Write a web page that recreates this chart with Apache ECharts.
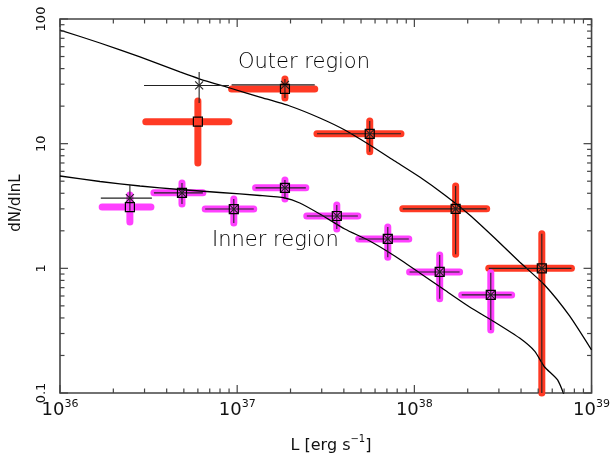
<!DOCTYPE html>
<html>
<head>
<meta charset="utf-8">
<script src="https://cdn.jsdelivr.net/npm/echarts@6/dist/echarts.min.js"></script>
<style>
  html, body { margin: 0; padding: 0; background: #fff; }
  #chart { width: 613px; height: 456px; }
</style>
</head>
<body>
<div id="chart"></div>
<script>
// Luminosity bins: [L, L_low, L_high, dN/dlnL, low, high]
const outerBins = [
  [6.0e36, 3.05e36, 8.98e36, 15.0, 7.0, 22.0],
  [1.86e37, 9.3e36, 2.74e37, 27.5, 23.2, 33.0],
  [5.6e37, 2.82e37, 8.4e37, 12.0, 8.6, 15.2],
  [1.71e38, 8.6e37, 2.56e38, 3.0, 1.30, 4.58],
  [5.24e38, 2.63e38, 7.7e38, 1.0, 0.1, 1.89]
];
// Alternative estimate (asterisks with thin error bars)
const outerAlt = [
  [6.1e36, 2.98e36, 8.98e36, 29.3, 21.2, 37.6],
  [1.86e37, 9.3e36, 2.74e37, 29.6, 23.2, 33.0],
  [5.6e37, 2.82e37, 8.4e37, 12.0, 8.6, 15.2],
  [1.71e38, 8.6e37, 2.56e38, 3.0, 1.30, 4.58],
  [5.24e38, 2.63e38, 7.7e38, 1.0, 0.1, 1.89]
];
const innerBins = [
  [2.48e36, 1.73e36, 3.26e36, 3.10, 2.35, 3.88],
  [4.88e36, 3.39e36, 6.4e36, 4.03, 3.28, 4.84],
  [9.57e36, 6.6e36, 1.24e37, 2.99, 2.31, 3.60],
  [1.86e37, 1.27e37, 2.44e37, 4.42, 3.60, 5.10],
  [3.65e37, 2.47e37, 4.8e37, 2.63, 2.07, 3.22],
  [7.08e37, 4.85e37, 9.3e37, 1.72, 1.23, 2.15],
  [1.39e38, 9.4e37, 1.80e38, 0.935, 0.569, 1.28],
  [2.70e38, 1.85e38, 3.54e38, 0.612, 0.32, 0.92]
];
const innerAlt = [
  [2.48e36, 1.70e36, 3.30e36, 3.66, 2.9, 4.66],
  [4.88e36, 3.39e36, 6.4e36, 4.03, 3.28, 4.84],
  [9.57e36, 6.6e36, 1.24e37, 2.99, 2.31, 3.60],
  [1.86e37, 1.27e37, 2.44e37, 4.42, 3.60, 5.10],
  [3.65e37, 2.47e37, 4.8e37, 2.63, 2.07, 3.22],
  [7.08e37, 4.85e37, 9.3e37, 1.72, 1.23, 2.15],
  [1.39e38, 9.4e37, 1.80e38, 0.935, 0.569, 1.28],
  [2.70e38, 1.85e38, 3.54e38, 0.612, 0.32, 0.92]
];

// Model curves
const outerCurveL = [1e36, 1.681e36, 2.826e36, 4.750e36, 6.159e36, 9.094e36, 1.343e37, 1.982e37,
  2.926e37, 4.048e37, 5.599e37, 7.746e37, 1.072e38, 1.483e38, 2.051e38, 2.838e38, 3.927e38,
  5.433e38, 7.516e38, 1e39];
const outerCurveN = [81.6, 64.2, 49.6, 37.6, 33.0, 27.96, 23.67, 20.05,
  16.07, 12.87, 9.76, 7.26, 5.40, 3.88, 2.68, 1.752, 1.124,
  0.735, 0.415, 0.2213];
const innerCurveL = [1e36, 1.681e36, 2.826e36, 4.750e36, 7.986e36, 1.343e37, 1.857e37, 2.256e37,
  2.926e37, 4.048e37, 5.599e37, 7.746e37, 1.072e38, 1.483e38, 2.051e38, 2.838e38, 3.927e38,
  4.771e38, 5.433e38, 6.432e38, 7.136e38];
const innerCurveN = [5.505, 4.973, 4.577, 4.290, 4.058, 3.839, 3.666, 3.343,
  2.729, 2.068, 1.657, 1.256, 0.918, 0.670, 0.490, 0.371, 0.276,
  0.217, 0.1617, 0.1272, 0.0895];

// Axis ticks
const xDecades = [36, 37, 38, 39];
const yTickLabels = { '-1': '0.1', '0': '1', '1': '10', '2': '100' };
const xTicks = [];
for (let e = 36; e <= 38; e++) {
  for (let m = 1; m <= 9; m++) xTicks.push([m * Math.pow(10, e), 1, m === 1 ? 1 : 0]);
}
xTicks.push([1e39, 1, 1]);
const yTicks = [];
for (let e = -1; e <= 1; e++) {
  for (let m = 1; m <= 9; m++) yTicks.push([1e37, m * Math.pow(10, e), m === 1 ? 1 : 0]);
}
yTicks.push([1e37, 100, 1]);

const RED = '#ff3a24';
const MAGENTA = '#ff40ff';
const INK = '#000';
const FRAME = '#444';

function toRows(L, N) { return L.map((l, i) => [l, N[i]]); }

function barItem(color, width) {
  return function (params, api) {
    const L = api.value(0), Llo = api.value(1), Lhi = api.value(2);
    const N = api.value(3), Nlo = api.value(4), Nhi = api.value(5);
    const a = api.coord([Llo, N]), b = api.coord([Lhi, N]);
    const c = api.coord([L, Nlo]), d = api.coord([L, Nhi]);
    const style = { stroke: color, lineWidth: width, lineCap: 'round' };
    return {
      type: 'group',
      children: [
        { type: 'line', shape: { x1: a[0], y1: a[1], x2: b[0], y2: b[1] }, style },
        { type: 'line', shape: { x1: c[0], y1: c[1], x2: d[0], y2: d[1] }, style }
      ]
    };
  };
}

function altItem(params, api) {
  const L = api.value(0), Llo = api.value(1), Lhi = api.value(2);
  const N = api.value(3), Nlo = api.value(4), Nhi = api.value(5);
  const p = api.coord([L, N]);
  const a = api.coord([Llo, N]), b = api.coord([Lhi, N]);
  const c = api.coord([L, Nlo]), d = api.coord([L, Nhi]);
  const style = { stroke: '#222', lineWidth: 1.1 };
  const s = 4;
  return {
    type: 'group',
    children: [
      { type: 'line', shape: { x1: a[0], y1: a[1], x2: b[0], y2: b[1] }, style },
      { type: 'line', shape: { x1: c[0], y1: c[1], x2: d[0], y2: d[1] }, style },
      { type: 'line', shape: { x1: p[0] - s, y1: p[1] - s, x2: p[0] + s, y2: p[1] + s }, style },
      { type: 'line', shape: { x1: p[0] - s, y1: p[1] + s, x2: p[0] + s, y2: p[1] - s }, style }
    ]
  };
}

function squareItem(params, api) {
  const p = api.coord([api.value(0), api.value(3)]);
  const h = 4.5;
  return {
    type: 'rect',
    shape: { x: p[0] - h, y: p[1] - h, width: 2 * h, height: 2 * h },
    style: { fill: 'none', stroke: INK, lineWidth: 1.2 }
  };
}

function xTickItem(params, api) {
  const cs = params.coordSys;
  const x = api.coord([api.value(0), 1])[0];
  const len = api.value(2) ? 8 : 4.5;
  const style = { stroke: FRAME, lineWidth: 1.2 };
  const yb = cs.y + cs.height, yt = cs.y;
  return {
    type: 'group',
    children: [
      { type: 'line', shape: { x1: x, y1: yb, x2: x, y2: yb - len }, style },
      { type: 'line', shape: { x1: x, y1: yt, x2: x, y2: yt + len }, style }
    ]
  };
}

function yTickItem(params, api) {
  const cs = params.coordSys;
  const y = api.coord([1e37, api.value(1)])[1];
  const len = api.value(2) ? 8 : 4.5;
  const style = { stroke: FRAME, lineWidth: 1.2 };
  const xl = cs.x, xr = cs.x + cs.width;
  return {
    type: 'group',
    children: [
      { type: 'line', shape: { x1: xl, y1: y, x2: xl + len, y2: y }, style },
      { type: 'line', shape: { x1: xr, y1: y, x2: xr - len, y2: y }, style }
    ]
  };
}

const errDims = ['L', 'Llo', 'Lhi', 'N', 'Nlo', 'Nhi'];
const errEncode = { x: 0, y: 3 };

const chart = echarts.init(document.getElementById('chart'), null, { renderer: 'canvas' });
chart.setOption({
  animation: false,
  backgroundColor: '#fff',
  textStyle: { fontFamily: 'DejaVu Sans' },
  grid: {
    left: 60, right: 21, top: 19, bottom: 63,
    show: true, borderColor: FRAME, borderWidth: 1.6, backgroundColor: 'transparent'
  },
  xAxis: {
    type: 'log', logBase: 10, min: 1e36, max: 1e39,
    axisLine: { show: false }, axisTick: { show: false }, splitLine: { show: false },
    axisLabel: {
      margin: 6,
      color: '#111',
      formatter: function (v) {
        const e = Math.round(Math.log10(v));
        return xDecades.indexOf(e) >= 0 ? '{b|10}{s|' + e + '}' : '';
      },
      rich: {
        b: { fontSize: 18, lineHeight: 20, verticalAlign: 'bottom', fontFamily: 'DejaVu Sans', color: '#111' },
        s: { fontSize: 11, lineHeight: 12, verticalAlign: 'top', fontFamily: 'DejaVu Sans', color: '#111' }
      }
    }
  },
  yAxis: {
    type: 'log', logBase: 10, min: 0.1, max: 100,
    axisLine: { show: false }, axisTick: { show: false }, splitLine: { show: false },
    axisLabel: {
      rotate: 90,
      margin: 12,
      fontSize: 13,
      color: '#111',
      formatter: function (v) {
        const e = Math.round(Math.log10(v));
        return yTickLabels[String(e)] || '';
      }
    }
  },
  graphic: [
    {
      type: 'text', x: 16, y: 203, rotation: Math.PI / 2,
      style: { text: 'dN/dlnL', fontSize: 15, fontFamily: 'DejaVu Sans', fill: '#111', align: 'center', verticalAlign: 'middle' }
    },
    {
      type: 'text', x: 331, y: 444,
      style: {
        text: '{n|L [erg s}{s|\u22121}{n|]}', fill: '#111', align: 'center', verticalAlign: 'middle',
        rich: {
          n: { fontSize: 16, lineHeight: 20, verticalAlign: 'bottom', fontFamily: 'DejaVu Sans', fill: '#111' },
          s: { fontSize: 10, lineHeight: 12, verticalAlign: 'top', fontFamily: 'DejaVu Sans', fill: '#111' }
        }
      }
    },
    {
      type: 'text', x: 238, y: 63,
      style: { text: 'Outer region', fontSize: 21, fontWeight: 200, fontFamily: 'DejaVu Sans', fill: '#000', align: 'left', verticalAlign: 'middle' }
    },
    {
      type: 'text', x: 212, y: 241,
      style: { text: 'Inner region', fontSize: 21, fontWeight: 200, fontFamily: 'DejaVu Sans', fill: '#000', align: 'left', verticalAlign: 'middle' }
    }
  ],
  series: [
    { type: 'custom', name: 'outerBars', z: 2, dimensions: errDims, encode: errEncode,
      renderItem: barItem(RED, 7), data: outerBins, silent: true },
    { type: 'custom', name: 'innerBars', z: 2, dimensions: errDims, encode: errEncode,
      renderItem: barItem(MAGENTA, 7), data: innerBins, silent: true },
    { type: 'line', name: 'outerModel', z: 3, data: toRows(outerCurveL, outerCurveN), showSymbol: false,
      symbol: 'none', clip: true, smooth: 0.2,
      lineStyle: { color: INK, width: 1.3 }, silent: true },
    { type: 'line', name: 'innerModel', z: 3, data: toRows(innerCurveL, innerCurveN), showSymbol: false,
      symbol: 'none', clip: true, smooth: 0.2,
      lineStyle: { color: INK, width: 1.3 }, silent: true },
    { type: 'custom', name: 'outerAlt', z: 4, dimensions: errDims, encode: errEncode,
      renderItem: altItem, data: outerAlt, silent: true },
    { type: 'custom', name: 'innerAlt', z: 4, dimensions: errDims, encode: errEncode,
      renderItem: altItem, data: innerAlt, silent: true },
    { type: 'custom', name: 'outerMarks', z: 5, dimensions: errDims, encode: errEncode,
      renderItem: squareItem, data: outerBins, silent: true },
    { type: 'custom', name: 'innerMarks', z: 5, dimensions: errDims, encode: errEncode,
      renderItem: squareItem, data: innerBins, silent: true },
    { type: 'custom', name: 'xTicks', z: 6, encode: { x: 0, y: 1 },
      renderItem: xTickItem, data: xTicks, silent: true },
    { type: 'custom', name: 'yTicks', z: 6, encode: { x: 0, y: 1 },
      renderItem: yTickItem, data: yTicks, silent: true }
  ]
});
</script>
</body>
</html>
